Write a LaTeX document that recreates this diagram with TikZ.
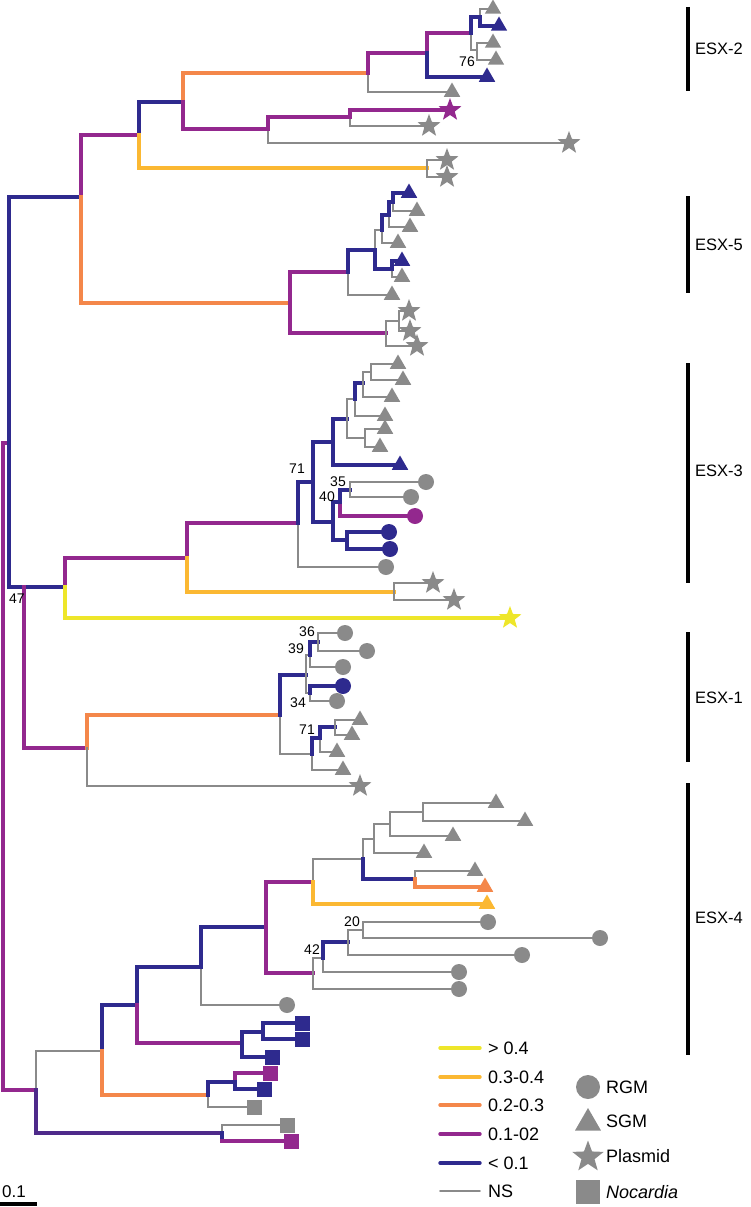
\documentclass[tikz,border=0pt]{standalone}
\usepackage{fontspec}
\setmainfont{Liberation Sans}
\usetikzlibrary{shapes.geometric}
\definecolor{cyel}{HTML}{EEE62A}
\definecolor{cgold}{HTML}{FBB832}
\definecolor{cora}{HTML}{F4874A}
\definecolor{cpur}{HTML}{93288E}
\definecolor{cblu}{HTML}{2E2A8E}
\definecolor{cvio}{HTML}{4E2A8A}
\definecolor{cgry}{HTML}{8A8A8A}
\tikzset{
 thk/.style={line width=3.4pt, line cap=rect},
 ns/.style={line width=1.8pt, draw=cgry, line cap=rect},
 tri/.style={regular polygon, regular polygon sides=3, minimum size=19pt, inner sep=0pt},
 circ/.style={circle, minimum size=16pt, inner sep=0pt},
 stra/.style={star, star points=5, star point ratio=2.4, minimum size=24pt, inner sep=0pt},
 sqr/.style={rectangle, minimum size=15pt, inner sep=0pt},
 bs/.style={font=\fontsize{14}{14}\selectfont, inner sep=0pt},
 lgt/.style={font=\fontsize{18}{18}\selectfont, inner sep=0pt, anchor=west},
 esx/.style={font=\fontsize{16.5}{16.5}\selectfont, inner sep=0pt, anchor=west},
 bar/.style={line width=4.5pt, draw=black},
}
\newcommand{\brc}[3]{\draw[thk, draw=#1] (#2) |- (#3);}
\newcommand{\brn}[2]{\draw[ns] (#1) |- (#2);}
\newcommand{\tp}[3]{\node[#1, fill=#2] (m#3) at (#3) {};}
\begin{document}
\begin{tikzpicture}[x=1pt,y=-1pt]
\useasboundingbox (0,0) rectangle (750,1207);
% ---------- internal nodes ----------
\coordinate (R0) at (3,766);
\coordinate (C) at (9,443);
\coordinate (B) at (81,197);
\coordinate (N1) at (139,135);
\coordinate (N2) at (183,102);
\coordinate (N3) at (427,168);
\coordinate (N4) at (368,73);
\coordinate (G) at (427,53);
\coordinate (E) at (471,33);
\coordinate (F) at (480,17);
\coordinate (H) at (477,50);
\coordinate (N5) at (268,129);
\coordinate (N6) at (350,117);
\coordinate (P0) at (290,303);
\coordinate (P1) at (348,272);
\coordinate (P2) at (375,250);
\coordinate (P3) at (382,230);
\coordinate (P5) at (389,215);
\coordinate (P6) at (393,202);
\coordinate (P4) at (392,269);
\coordinate (Q) at (386,333);
\coordinate (Q1) at (399,321);
\coordinate (D) at (24,587);
\coordinate (AD) at (65,587);
\coordinate (AE) at (187,558);
\coordinate (AQ) at (394,592);
\coordinate (R) at (298,523);
\coordinate (S) at (313,482);
\coordinate (T) at (333,442);
\coordinate (U) at (347,419);
\coordinate (V) at (355,399);
\coordinate (W) at (363,383);
\coordinate (Y) at (371,372);
\coordinate (X) at (365,438);
\coordinate (Z) at (333,522);
\coordinate (AA) at (340,502);
\coordinate (AC) at (350,490);
\coordinate (AB) at (347,540);
\coordinate (AP) at (87,748);
\coordinate (AG) at (280,715);
\coordinate (AH) at (306,675);
\coordinate (AK) at (310,655);
\coordinate (AJ) at (318,642);
\coordinate (AL) at (310,693);
\coordinate (AM) at (312,754);
\coordinate (AN) at (320,738);
\coordinate (AO) at (335,727);
\coordinate (BO) at (36,1090);
\coordinate (BC) at (102,1051);
\coordinate (BA) at (137,1005);
\coordinate (BB) at (201,967);
\coordinate (BD) at (266,927);
\coordinate (BE) at (313,882);
\coordinate (BG) at (363,859);
\coordinate (BH) at (374,839);
\coordinate (BJ) at (390,824);
\coordinate (BK) at (423,812);
\coordinate (BI) at (415,879);
\coordinate (BF) at (313,973);
\coordinate (BL) at (323,958);
\coordinate (BM) at (348,942);
\coordinate (BN) at (363,930);
\coordinate (BR) at (242,1043);
\coordinate (BS) at (263,1032);
\coordinate (BP) at (208,1095);
\coordinate (BT) at (235,1082);
\coordinate (BQ) at (222,1133);
% ---------- tips ----------
\coordinate (t1) at (493,9);   \coordinate (t2) at (499,26);
\coordinate (t3) at (493,43);  \coordinate (t4) at (496,60);
\coordinate (t5) at (487,77);  \coordinate (t6) at (452,92);
\coordinate (t7) at (450,110); \coordinate (t8) at (429,126);
\coordinate (t9) at (569,143); \coordinate (t10) at (447,160);
\coordinate (t11) at (447,177);
\coordinate (t12) at (409,193); \coordinate (t13) at (417,211);
\coordinate (t14) at (410,227); \coordinate (t15) at (398,243);
\coordinate (t16) at (402,261); \coordinate (t17) at (402,277);
\coordinate (t18) at (392,295); \coordinate (t19) at (409,311);
\coordinate (t20) at (410,331); \coordinate (t21) at (417,346);
\coordinate (t22) at (398,364); \coordinate (t23) at (403,380);
\coordinate (t24) at (392,397); \coordinate (t25) at (385,416);
\coordinate (t26) at (385,429); \coordinate (t27) at (380,447);
\coordinate (t28) at (400,465); \coordinate (t29) at (426,482);
\coordinate (t30) at (411,497); \coordinate (t31) at (415,516);
\coordinate (t32) at (389,532); \coordinate (t33) at (390,549);
\coordinate (t34) at (386,567); \coordinate (t35) at (433,583);
\coordinate (t36) at (454,600); \coordinate (t37) at (510,618);
\coordinate (t38) at (345,633); \coordinate (t39) at (367,651);
\coordinate (t40) at (343,667); \coordinate (t41) at (343,686);
\coordinate (t42) at (337,701); \coordinate (t43) at (360,720);
\coordinate (t44) at (352,735); \coordinate (t45) at (337,752);
\coordinate (t46) at (343,770); \coordinate (t47) at (360,786);
\coordinate (t48) at (496,803); \coordinate (t49) at (525,821);
\coordinate (t50) at (453,836); \coordinate (t51) at (424,853);
\coordinate (t52) at (475,871); \coordinate (t53) at (485,887);
\coordinate (t54) at (487,904); \coordinate (t55) at (488,922);
\coordinate (t56) at (600,938); \coordinate (t57) at (522,955);
\coordinate (t58) at (459,972); \coordinate (t59) at (459,989);
\coordinate (t60) at (287,1005); \coordinate (t61) at (302,1023);
\coordinate (t62) at (302,1039); \coordinate (t63) at (272,1057);
\coordinate (t64) at (270,1073); \coordinate (t65) at (264,1089);
\coordinate (t66) at (254,1107); \coordinate (t67) at (287,1125);
\coordinate (t68) at (291,1141);
% ---------- branches ----------
\brc{cpur}{R0}{C} \brc{cpur}{R0}{BO}
\brc{cblu}{C}{B} \brc{cblu}{C}{D}
\brc{cpur}{B}{N1} \brc{cora}{B}{P0}
\brc{cblu}{N1}{N2} \brc{cgold}{N1}{N3}
\brn{N3}{t10} \brn{N3}{t11}
\brc{cora}{N2}{N4} \brc{cpur}{N2}{N5}
\brn{N4}{t6} \brc{cpur}{N4}{G}
\brc{cpur}{G}{E} \brc{cblu}{G}{t5}
\brn{E}{H} \brc{cblu}{E}{F}
\brn{F}{t1} \brc{cblu}{F}{t2}
\brn{H}{t3} \brn{H}{t4}
\brn{N5}{t9} \brc{cpur}{N5}{N6}
\brn{N6}{t8} \brc{cpur}{N6}{t7}
% ESX-5
\brc{cpur}{P0}{P1} \brc{cpur}{P0}{Q}
\brn{P1}{t18} \brc{cblu}{P1}{P2}
\brn{P2}{P3} \brc{cblu}{P2}{P4}
\brn{P3}{t15} \brc{cblu}{P3}{P5}
\brn{P5}{t14} \brc{cblu}{P5}{P6}
\brn{P6}{t13} \brc{cblu}{P6}{t12}
\brn{P4}{t17} \brc{cblu}{P4}{t16}
\brn{Q}{Q1} \brn{Q}{t21} \brn{Q1}{t19} \brn{Q1}{t20}
% ESX-3
\brc{cblu}{D}{AD} \brc{cpur}{D}{AP}
\brc{cpur}{AD}{AE} \brc{cyel}{AD}{t37}
\brc{cpur}{AE}{R} \brc{cgold}{AE}{AQ}
\brn{AQ}{t35} \brn{AQ}{t36}
\brn{R}{t34} \brc{cblu}{R}{S}
\brc{cblu}{S}{T} \brc{cblu}{S}{Z}
\brc{cblu}{T}{t28} \brc{cblu}{T}{U}
\brn{U}{V} \brn{U}{X}
\brn{V}{t25} \brc{cblu}{V}{W}
\brn{W}{Y} \brn{W}{t24}
\brn{Y}{t22} \brn{Y}{t23}
\brn{X}{t26} \brn{X}{t27}
\brc{cpur}{AA}{t31} \brc{cblu}{Z}{AA} \brc{cblu}{Z}{AB}
\brc{cblu}{AA}{AC}
\brn{AC}{t29} \brn{AC}{t30}
\brc{cblu}{AB}{t32} \brc{cblu}{AB}{t33}
% ESX-1
\brc{cora}{AP}{AG} \brn{AP}{t47}
\brn{AG}{AM} \brc{cblu}{AG}{AH}
\brn{AH}{AK} \brn{AH}{AL}
\brn{AK}{t40} \brc{cblu}{AK}{AJ}
\brn{AJ}{t38} \brn{AJ}{t39}
\brn{AL}{t42} \brc{cblu}{AL}{t41}
\brn{AM}{t46} \brc{cblu}{AM}{AN}
\brn{AN}{t45} \brc{cblu}{AN}{AO}
\brn{AO}{t43} \brn{AO}{t44}
% ESX-4
\brn{BO}{BC} \brc{cvio}{BO}{BQ}
\brc{cblu}{BC}{BA} \brc{cora}{BC}{BP}
\brc{cblu}{BA}{BB} \brc{cpur}{BA}{BR}
\brn{BB}{t60} \brc{cblu}{BB}{BD}
\brc{cpur}{BD}{BE} \brc{cpur}{BD}{BF}
\brn{BE}{BG} \brc{cgold}{BE}{t54}
\brn{BG}{BH} \brc{cblu}{BG}{BI}
\brn{BH}{BJ} \brn{BH}{t51}
\brn{BJ}{BK} \brn{BJ}{t50}
\brn{BK}{t48} \brn{BK}{t49}
\brn{BI}{t52} \brc{cora}{BI}{t53}
\brn{BF}{BL} \brn{BF}{t59}
\brn{BL}{t58} \brc{cblu}{BL}{BM}
\brn{BM}{BN} \brn{BM}{t57}
\brn{BN}{t55} \brn{BN}{t56}
\brc{cblu}{BR}{BS} \brc{cblu}{BR}{t63}
\brc{cblu}{BS}{t61} \brc{cblu}{BS}{t62}
\brn{BP}{t66} \brc{cblu}{BP}{BT}
\brc{cpur}{BT}{t64} \brc{cblu}{BT}{t65}
\brn{BQ}{t67}
\draw[thk, draw=cblu] (BQ) -- (BQ |- t68);
\draw[thk, draw=cpur] (BQ |- t68) -- (t68);
% ---------- tip markers ----------
\tp{tri}{cgry}{t1} \tp{tri}{cblu}{t2} \tp{tri}{cgry}{t3} \tp{tri}{cgry}{t4}
\tp{tri}{cblu}{t5} \tp{tri}{cgry}{t6}
\tp{stra}{cpur}{t7} \tp{stra}{cgry}{t8} \tp{stra}{cgry}{t9}
\tp{stra}{cgry}{t10} \tp{stra}{cgry}{t11}
\tp{tri}{cblu}{t12} \tp{tri}{cgry}{t13} \tp{tri}{cgry}{t14} \tp{tri}{cgry}{t15}
\tp{tri}{cblu}{t16} \tp{tri}{cgry}{t17} \tp{tri}{cgry}{t18}
\tp{stra}{cgry}{t19} \tp{stra}{cgry}{t20} \tp{stra}{cgry}{t21}
\tp{tri}{cgry}{t22} \tp{tri}{cgry}{t23} \tp{tri}{cgry}{t24} \tp{tri}{cgry}{t25}
\tp{tri}{cgry}{t26} \tp{tri}{cgry}{t27} \tp{tri}{cblu}{t28}
\tp{circ}{cgry}{t29} \tp{circ}{cgry}{t30} \tp{circ}{cpur}{t31}
\tp{circ}{cblu}{t32} \tp{circ}{cblu}{t33} \tp{circ}{cgry}{t34}
\tp{stra}{cgry}{t35} \tp{stra}{cgry}{t36} \tp{stra}{cyel}{t37}
\tp{circ}{cgry}{t38} \tp{circ}{cgry}{t39} \tp{circ}{cgry}{t40}
\tp{circ}{cblu}{t41} \tp{circ}{cgry}{t42}
\tp{tri}{cgry}{t43} \tp{tri}{cgry}{t44} \tp{tri}{cgry}{t45} \tp{tri}{cgry}{t46}
\tp{stra}{cgry}{t47}
\tp{tri}{cgry}{t48} \tp{tri}{cgry}{t49} \tp{tri}{cgry}{t50} \tp{tri}{cgry}{t51}
\tp{tri}{cgry}{t52} \tp{tri}{cora}{t53} \tp{tri}{cgold}{t54}
\tp{circ}{cgry}{t55} \tp{circ}{cgry}{t56} \tp{circ}{cgry}{t57}
\tp{circ}{cgry}{t58} \tp{circ}{cgry}{t59} \tp{circ}{cgry}{t60}
\tp{sqr}{cblu}{t61} \tp{sqr}{cblu}{t62} \tp{sqr}{cblu}{t63}
\tp{sqr}{cpur}{t64} \tp{sqr}{cblu}{t65} \tp{sqr}{cgry}{t66}
\tp{sqr}{cgry}{t67} \tp{sqr}{cpur}{t68}
% ---------- support values ----------
\node[bs] (b76) at (467,62) {76};
\node[bs] (b71a) at (297,469) {71};
\node[bs] (b35) at (338,482) {35};
\node[bs] (b40) at (327,497) {40};
\node[bs] (b36) at (307,632) {36};
\node[bs] (b39) at (296,649) {39};
\node[bs] (b34) at (298,703) {34};
\node[bs] (b71b) at (307,730) {71};
\node[bs] (b20) at (352,922) {20};
\node[bs] (b42) at (312,950) {42};
\node[bs] (b47) at (17,599) {47};
% ---------- clade bars ----------
\coordinate (e2a) at (688,7);   \coordinate (e2b) at (688,91);
\coordinate (e5a) at (688,196); \coordinate (e5b) at (688,293);
\coordinate (e3a) at (688,363); \coordinate (e3b) at (688,583);
\coordinate (e1a) at (688,632); \coordinate (e1b) at (688,762);
\coordinate (e4a) at (688,783); \coordinate (e4b) at (688,1055);
\draw[bar] (e2a) -- (e2b); \draw[bar] (e5a) -- (e5b); \draw[bar] (e3a) -- (e3b);
\draw[bar] (e1a) -- (e1b); \draw[bar] (e4a) -- (e4b);
\node[esx] (l2) at (695,49) {ESX-2};
\node[esx] (l5) at (695,245) {ESX-5};
\node[esx] (l3) at (695,471) {ESX-3};
\node[esx] (l1) at (695,698) {ESX-1};
\node[esx] (l4) at (695,918) {ESX-4};
% ---------- legend ----------
\foreach \yy/\cc/\ww/\tt [count=\i] in {1048/cyel/3.4/{> 0.4}, 1077/cgold/3.4/{0.3-0.4}, 1105/cora/3.4/{0.2-0.3}, 1134/cpur/3.4/{0.1-02}, 1163/cblu/3.4/{< 0.1}, 1191/cgry/1.8/{NS}}{
  \coordinate (la\i) at (440,\yy); \coordinate (lb\i) at (480,\yy);
  \draw[line width=\ww pt, draw=\cc, line cap=round] (la\i) -- (lb\i);
  \node[lgt] (lt\i) at (488,\yy) {\tt};
}
\node[circle, minimum size=24pt, inner sep=0pt, fill=cgry] (sy1) at (588,1087) {};
\node[regular polygon, regular polygon sides=3, minimum size=30pt, inner sep=0pt, fill=cgry] (sy2) at (588,1123) {};
\node[star, star points=5, star point ratio=2.4, minimum size=33pt, inner sep=0pt, fill=cgry] (sy3) at (588,1157) {};
\node[rectangle, minimum size=24pt, inner sep=0pt, fill=cgry] (sy4) at (588,1192) {};
\node[lgt] (st1) at (606,1087) {RGM};
\node[lgt] (st2) at (606,1121) {SGM};
\node[lgt] (st3) at (606,1156) {Plasmid};
\node[lgt] (st4) at (606,1192) {\itshape Nocardia};
% ---------- scale bar ----------
\coordinate (sa) at (0,1204); \coordinate (sb) at (37,1204);
\draw[line width=4pt] (sa) -- (sb);
\node[font=\fontsize{17}{17}\selectfont, inner sep=0pt] (s01) at (14,1192) {0.1};
\end{tikzpicture}
\end{document}
